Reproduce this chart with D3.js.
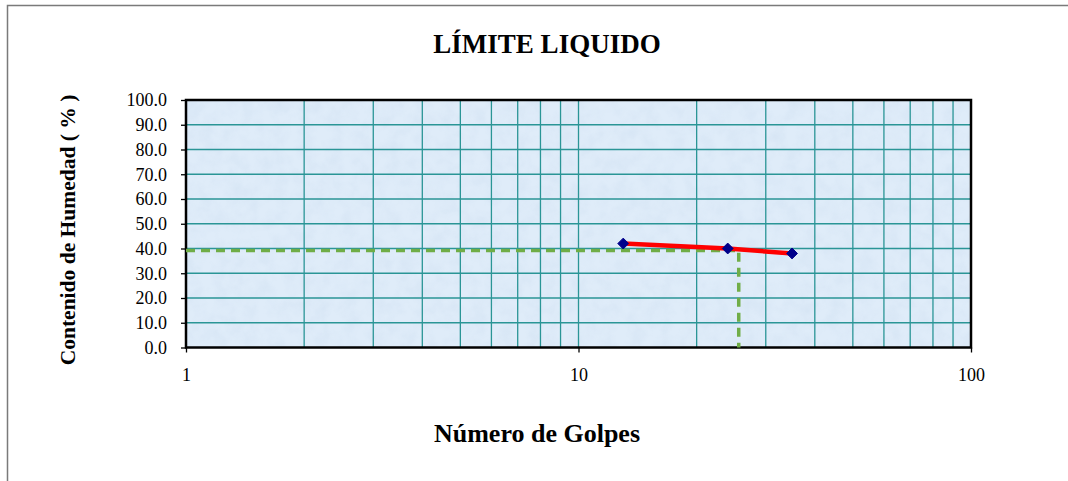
<!DOCTYPE html>
<html>
<head>
<meta charset="utf-8">
<script src="https://cdn.jsdelivr.net/npm/d3@7"></script>
<style>
  body { margin: 0; background: #fff; }
</style>
</head>
<body>
<div id="chart"></div>
<script>
// chart size
var width = 1068,
    height = 481;

var margin = { top: 100, right: 97, bottom: 133, left: 186 };
var serif = "'Liberation Serif', 'Times New Roman', 'DejaVu Serif', serif";

// data
var golpes = [13, 24, 35];
var humedad = [42.0, 40.0, 38.0];
var limiteGolpes = 25.6;
var limiteHumedad = 39.2;
var yTicks = [0, 10, 20, 30, 40, 50, 60, 70, 80, 90, 100];
var xLabels = [1, 10, 100];
var xGrid = [2, 3, 4, 5, 6, 7, 8, 9, 20, 30, 40, 50, 60, 70, 80, 90];

var points = golpes.map(function(g, i) { return { x: g, y: humedad[i] }; });

var svg = d3.select("#chart")
    .append("svg")
    .attr("width", width)
    .attr("height", height);

// outer frame of the chart
svg.append("rect")
    .attr("x", 7.5)
    .attr("y", 5.5)
    .attr("width", 1080)
    .attr("height", 500)
    .attr("fill", "none")
    .attr("stroke", "#7a7a7a")
    .attr("stroke-width", 1.5);

var w = 971 - margin.left,
    h = 347.5 - margin.top;

var x = d3.scaleLog().domain([1, 100]).range([0, w]);
var y = d3.scaleLinear().domain([0, 100]).range([h, 0]);

var g = svg.append("g")
    .attr("transform", "translate(" + margin.left + "," + margin.top + ")");

// textured light blue background
var defs = svg.append("defs");
var filt = defs.append("filter").attr("id", "noise")
    .attr("x", 0).attr("y", 0).attr("width", "100%").attr("height", "100%");
filt.append("feTurbulence")
    .attr("type", "fractalNoise")
    .attr("baseFrequency", "0.07")
    .attr("numOctaves", 3)
    .attr("seed", 4)
    .attr("result", "t");
filt.append("feColorMatrix")
    .attr("in", "t")
    .attr("type", "matrix")
    .attr("values", "0 0 0 0 0.6  0 0 0 0 0.72  0 0 0 0 0.86  0 0 0 -1.3 0.85");

g.append("rect")
    .attr("width", w)
    .attr("height", h)
    .attr("fill", "#dfecf9");
g.append("rect")
    .attr("width", w)
    .attr("height", h)
    .attr("filter", "url(#noise)")
    .attr("opacity", 0.5);

// grid lines
g.selectAll(".hgrid")
    .data(yTicks.slice(1, -1))
    .enter().append("line")
    .attr("class", "hgrid")
    .attr("x1", 0).attr("x2", w)
    .attr("y1", function(d) { return y(d); })
    .attr("y2", function(d) { return y(d); })
    .attr("stroke", "#2a9596")
    .attr("stroke-width", 1.5);

g.selectAll(".vgrid")
    .data(xGrid.concat([10]))
    .enter().append("line")
    .attr("class", "vgrid")
    .attr("x1", function(d) { return x(d); })
    .attr("x2", function(d) { return x(d); })
    .attr("y1", 0).attr("y2", h)
    .attr("stroke", "#2a9596")
    .attr("stroke-width", 1.3);

// plot frame
g.append("rect")
    .attr("width", w)
    .attr("height", h)
    .attr("fill", "none")
    .attr("stroke", "#000")
    .attr("stroke-width", 2.5);

// y axis
var yAxis = d3.axisLeft(y)
    .tickValues(yTicks)
    .tickSize(5)
    .tickPadding(14)
    .tickFormat(d3.format(".1f"));
var ya = g.append("g").call(yAxis);
ya.attr("font-family", null).attr("font-size", null);
ya.select(".domain").remove();
ya.selectAll("text")
    .style("font-family", serif)
    .style("font-size", "18px")
    .attr("fill", "#000");
ya.selectAll("line").attr("stroke", "#000").attr("stroke-width", 1.3);

// x axis
var xAxis = d3.axisBottom(x)
    .tickValues(xLabels)
    .tickSize(5)
    .tickPadding(16)
    .tickFormat(d3.format("d"));
var xa = g.append("g")
    .attr("transform", "translate(0," + h + ")")
    .call(xAxis);
xa.attr("font-family", null).attr("font-size", null);
xa.select(".domain").remove();
xa.selectAll("text")
    .style("font-family", serif)
    .style("font-size", "18px")
    .attr("fill", "#000");
xa.selectAll("line").attr("stroke", "#000").attr("stroke-width", 1.3);

// liquid limit guide lines
g.append("path")
    .attr("d", "M" + x(1) + "," + y(limiteHumedad) +
        "L" + x(limiteGolpes) + "," + y(limiteHumedad) +
        "L" + x(limiteGolpes) + "," + y(0))
    .attr("fill", "none")
    .attr("stroke", "#70ad47")
    .attr("stroke-width", 3.5)
    .attr("stroke-dasharray", "9,6");

// flow curve
var line = d3.line()
    .x(function(d) { return x(d.x); })
    .y(function(d) { return y(d.y); });

g.append("path")
    .datum(points)
    .attr("d", line)
    .attr("fill", "none")
    .attr("stroke", "#ff0000")
    .attr("stroke-width", 4.5);

g.selectAll(".pt")
    .data(points)
    .enter().append("path")
    .attr("class", "pt")
    .attr("d", d3.symbol().type(d3.symbolDiamond2).size(75))
    .attr("transform", function(d) { return "translate(" + x(d.x) + "," + y(d.y) + ")"; })
    .attr("fill", "#00008b")
    .attr("stroke", "#00008b")
    .attr("stroke-width", 1);

// titles
svg.append("text")
    .attr("x", 547)
    .attr("y", 53)
    .attr("text-anchor", "middle")
    .style("font-family", serif)
    .style("font-size", "27px")
    .style("font-weight", "bold")
    .text("LÍMITE LIQUIDO");

svg.append("text")
    .attr("x", 537)
    .attr("y", 442)
    .attr("text-anchor", "middle")
    .style("font-family", serif)
    .style("font-size", "26px")
    .style("font-weight", "bold")
    .text("Número de Golpes");

svg.append("text")
    .attr("transform", "translate(75,230) rotate(-90)")
    .attr("text-anchor", "middle")
    .style("font-family", serif)
    .style("font-size", "21.5px")
    .style("font-weight", "bold")
    .text("Contenido de Humedad ( % )");
</script>
</body>
</html>
